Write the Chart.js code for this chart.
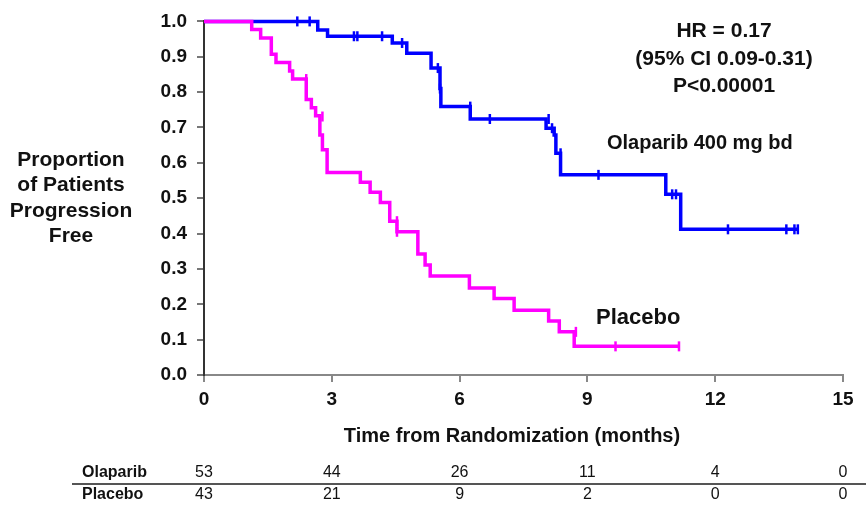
<!DOCTYPE html>
<html>
<head>
<meta charset="utf-8">
<script src="https://cdn.jsdelivr.net/npm/chart.js@4"></script>
<style>
  html, body { margin: 0; padding: 0; background: #fff; }
  #wrap { width: 866px; height: 506px; }
</style>
</head>
<body>
<div id="wrap"><canvas id="km"></canvas></div>
<script>
// Kaplan-Meier: tiempo (meses) y proporción libre de progresión tras cada evento
const olaparibT = [0, 2.67, 2.9, 4.42, 4.76, 5.33, 5.54, 5.56, 6.25, 8.03, 8.22, 8.26, 8.37, 10.84, 11.19, 13.95];
const olaparibS = [1.0, 0.976, 0.958, 0.939, 0.910, 0.868, 0.810, 0.759, 0.724, 0.698, 0.679, 0.627, 0.566, 0.511, 0.412, 0.412];
const placeboT = [0, 1.12, 1.33, 1.58, 1.69, 2.01, 2.08, 2.40, 2.52, 2.62, 2.72, 2.78, 2.89, 3.67, 3.90, 4.14, 4.36, 4.53, 5.02, 5.19, 5.31, 6.23, 6.81, 7.28, 8.09, 8.34, 8.69, 11.15];
const placeboS = [1.0, 0.977, 0.953, 0.907, 0.884, 0.860, 0.837, 0.779, 0.756, 0.733, 0.679, 0.637, 0.573, 0.545, 0.517, 0.488, 0.435, 0.405, 0.342, 0.311, 0.280, 0.246, 0.216, 0.183, 0.153, 0.122, 0.081, 0.081];

// marcas de censura
const olaparibCensT = [2.19, 2.48, 3.52, 3.6, 4.18, 4.65, 5.49, 5.54, 6.25, 6.71, 8.09, 8.17, 8.37, 9.26, 10.99, 11.08, 12.3, 13.67, 13.86, 13.94];
const olaparibCensS = [1.0, 1.0, 0.958, 0.958, 0.958, 0.939, 0.868, 0.810, 0.759, 0.724, 0.724, 0.698, 0.627, 0.566, 0.511, 0.511, 0.412, 0.412, 0.412, 0.412];
const placeboCensT = [2.40, 2.78, 2.78, 4.53, 4.53, 8.73, 9.66, 11.15];
const placeboCensS = [0.837, 0.731, 0.653, 0.435, 0.405, 0.122, 0.081, 0.081];

// tabla de pacientes en riesgo
const riskTimes = [0, 3, 6, 9, 12, 15];
const olaparibRisk = [53, 44, 26, 11, 4, 0];
const placeboRisk = [43, 21, 9, 2, 0, 0];

const xTicks = [0, 3, 6, 9, 12, 15];

const BLUE = "#0000ff";
const MAGENTA = "#ff00ff";
const FONT = "'Liberation Sans', Arial, sans-serif";

const pts = (xs, ys) => xs.map((x, i) => ({ x, y: ys[i] }));

// textos fuera del área del gráfico
const extraText = {
  id: "extraText",
  afterDraw(chart) {
    const { ctx, scales } = chart;
    const x = scales.x;
    ctx.save();
    ctx.fillStyle = "#111";
    ctx.textBaseline = "middle";
    ctx.textAlign = "center";

    ctx.font = "bold 21px " + FONT;
    ["Proportion", "of Patients", "Progression", "Free"].forEach((s, i) => {
      ctx.fillText(s, 71, 160 + i * 25.5);
    });

    ctx.font = "bold 21px " + FONT;
    ctx.fillText("HR = 0.17", 724, 31);
    ctx.fillText("(95% CI 0.09-0.31)", 724, 59);
    ctx.fillText("P<0.00001", 724, 86);

    ctx.textAlign = "left";
    ctx.font = "bold 20px " + FONT;
    ctx.fillText("Olaparib 400 mg bd", 607, 143);
    ctx.font = "bold 22px " + FONT;
    ctx.fillText("Placebo", 596, 318);

    ctx.textAlign = "center";
    ctx.font = "bold 20px " + FONT;
    ctx.fillText("Time from Randomization (months)", 512, 436);

    // tabla en riesgo
    ctx.font = "bold 16px " + FONT;
    ctx.textAlign = "left";
    ctx.fillText("Olaparib", 82, 473);
    ctx.fillText("Placebo", 82, 495);
    ctx.font = "16px " + FONT;
    ctx.textAlign = "center";
    riskTimes.forEach((t, i) => {
      const px = x.getPixelForValue(t);
      ctx.fillText(String(olaparibRisk[i]), px, 473);
      ctx.fillText(String(placeboRisk[i]), px, 495);
    });
    ctx.strokeStyle = "#555";
    ctx.lineWidth = 2;
    ctx.beginPath();
    ctx.moveTo(72, 484);
    ctx.lineTo(866, 484);
    ctx.stroke();
    ctx.restore();
  },
};

const censorStyle = (color) => ({
  type: "scatter",
  showLine: false,
  pointStyle: "line",
  rotation: 90,
  radius: 5,
  pointBorderWidth: 2.5,
  borderColor: color,
  backgroundColor: color,
  clip: false,
});

new Chart(document.getElementById("km"), {
  type: "line",
  data: {
    datasets: [
      { label: "Placebo", data: pts(placeboT, placeboS), borderColor: MAGENTA, borderWidth: 3.5, stepped: true, pointRadius: 0, clip: false },
      Object.assign({ label: "Placebo cens", data: pts(placeboCensT, placeboCensS) }, censorStyle(MAGENTA)),
      { label: "Olaparib", data: pts(olaparibT, olaparibS), borderColor: BLUE, borderWidth: 3.5, stepped: true, pointRadius: 0, clip: false },
      Object.assign({ label: "Olaparib cens", data: pts(olaparibCensT, olaparibCensS) }, censorStyle(BLUE)),
    ],
  },
  options: {
    responsive: true,
    maintainAspectRatio: false,
    animation: false,
    layout: { padding: { left: 0, top: 21, right: 23, bottom: 0 } },
    plugins: { legend: { display: false }, tooltip: { enabled: false } },
    scales: {
      x: {
        type: "linear",
        min: 0,
        max: 15,
        afterBuildTicks: (s) => { s.ticks = xTicks.map((v) => ({ value: v })); },
        afterFit: (s) => { s.height = 131; },
        grid: { drawOnChartArea: false, drawTicks: true, tickLength: 7, color: "#888", lineWidth: 2 },
        border: { color: "#888", width: 2 },
        ticks: { color: "#111", font: { family: FONT, size: 19, weight: "bold" }, padding: 6, maxRotation: 0 },
      },
      y: {
        min: 0,
        max: 1,
        afterFit: (s) => { s.width = 204; },
        grid: { drawOnChartArea: false, drawTicks: true, tickLength: 7, color: "#777", lineWidth: 2 },
        border: { color: "#333", width: 2 },
        ticks: {
          stepSize: 0.1,
          color: "#111",
          padding: 10,
          font: { family: FONT, size: 19, weight: "bold" },
          callback: (v) => v.toFixed(1),
        },
      },
    },
  },
  plugins: [extraText],
});
</script>
</body>
</html>
